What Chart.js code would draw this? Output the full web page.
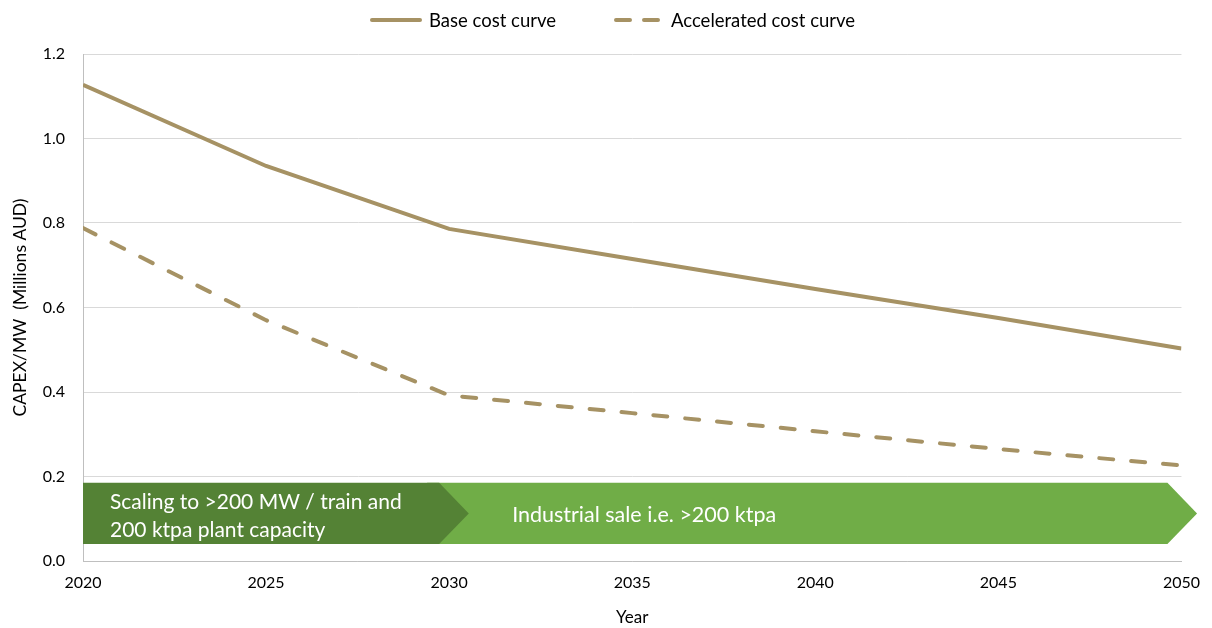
<!DOCTYPE html>
<html>
<head>
<meta charset="utf-8">
<script src="https://cdn.jsdelivr.net/npm/chart.js@4.4.1/dist/chart.umd.min.js"></script>
<style>
  html, body { margin: 0; padding: 0; background: #ffffff; }
  #wrap { width: 1212px; height: 628px; }
</style>
</head>
<body>
<div id="wrap"><canvas id="c" width="1212" height="628"></canvas></div>
<script>
// Years at which the cost estimates are given
const years = [2020, 2025, 2030, 2035, 2040, 2045, 2050];
// CAPEX per MW, millions AUD
const baseCost = [1.127, 0.935, 0.786, 0.715, 0.644, 0.575, 0.503];
const acceleratedCost = [0.788, 0.570, 0.392, 0.350, 0.307, 0.265, 0.226];
const seriesNames = ['Base cost curve', 'Accelerated cost curve'];
const yTicks = [0, 0.2, 0.4, 0.6, 0.8, 1.0, 1.2];
// Deployment phases shown as arrows along the bottom
const phaseNames = [['Scaling to >200 MW / train and', '200 ktpa plant capacity'], ['Industrial sale i.e. >200 ktpa']];
const phaseFrom = [2020, 2030];
const phaseTo = [2030, 2050];

const FONT = 'Lato, "Open Sans", sans-serif';
const LINE = '#A69264';

const pts = vals => years.map((y, i) => ({ x: y, y: vals[i] }));

// Phase arrows drawn behind the lines
const phaseArrows = {
  id: 'phaseArrows',
  beforeDatasetsDraw(chart) {
    const { ctx, scales: { x, y } } = chart;
    const top = y.getPixelForValue(0.185);
    const bot = y.getPixelForValue(0.040);
    const mid = (top + bot) / 2;
    const half = (bot - top) / 2;
    const shapes = [
      { x0: x.getPixelForValue(phaseFrom[1]) - 22, x1: x.getPixelForValue(phaseTo[1]) - 14, fill: '#70AD47' },
      { x0: x.getPixelForValue(phaseFrom[0]), x1: x.getPixelForValue(phaseTo[0]) - 10, fill: '#548235' }
    ];
    ctx.save();
    shapes.forEach(s => {
      ctx.beginPath();
      ctx.moveTo(s.x0, top);
      ctx.lineTo(s.x1, top);
      ctx.lineTo(s.x1 + half - 1, mid);
      ctx.lineTo(s.x1, bot);
      ctx.lineTo(s.x0, bot);
      ctx.closePath();
      ctx.fillStyle = s.fill;
      ctx.fill();
    });
    ctx.fillStyle = '#ffffff';
    ctx.font = '21px ' + FONT;
    ctx.textAlign = 'left';
    ctx.textBaseline = 'alphabetic';
    const xa = x.getPixelForValue(phaseFrom[0]) + 27;
    ctx.fillText(phaseNames[0][0], xa, mid - 4);
    ctx.fillText(phaseNames[0][1], xa, mid + 24);
    ctx.font = '21.5px ' + FONT;
    ctx.fillText(phaseNames[1][0], x.getPixelForValue(phaseFrom[1]) + 63, mid + 9);
    ctx.restore();
  }
};

// Legend row across the top
const topLegend = {
  id: 'topLegend',
  afterDraw(chart) {
    const { ctx } = chart;
    const ds = chart.data.datasets;
    const cy = 20;
    const items = [{ x: 370, tx: 429 }, { x: 614, tx: 671 }];
    ctx.save();
    ctx.font = '18.5px ' + FONT;
    ctx.textBaseline = 'middle';
    ctx.textAlign = 'left';
    items.forEach((it, i) => {
      ctx.strokeStyle = ds[i].borderColor;
      ctx.lineWidth = 4;
      ctx.lineCap = 'round';
      ctx.setLineDash(i === 1 ? [14, 14] : []);
      ctx.beginPath();
      ctx.moveTo(it.x + 2, cy);
      ctx.lineTo(it.x + (i === 1 ? 46 : 50), cy);
      ctx.stroke();
      ctx.setLineDash([]);
      ctx.fillStyle = '#000000';
      ctx.fillText(ds[i].label, it.tx, cy + 1);
    });
    ctx.restore();
  }
};

new Chart(document.getElementById('c'), {
  type: 'line',
  data: {
    datasets: [
      { label: seriesNames[0], data: pts(baseCost), borderColor: LINE, borderWidth: 4, pointRadius: 0, tension: 0, borderCapStyle: 'butt' },
      { label: seriesNames[1], data: pts(acceleratedCost), borderColor: LINE, borderWidth: 4, pointRadius: 0, tension: 0, borderDash: [14, 18], borderCapStyle: 'round' }
    ]
  },
  options: {
    responsive: false,
    animation: false,
    events: [],
    layout: { padding: { top: 54, right: 28, bottom: 0, left: 0 } },
    plugins: { legend: { display: false }, tooltip: { enabled: false } },
    scales: {
      x: {
        type: 'linear',
        min: 2020, max: 2050,
        afterBuildTicks(s) { s.ticks = years.map(v => ({ value: v })); },
        afterFit(s) { s.height = 67; },
        grid: { display: false, drawTicks: false },
        border: { display: true, color: '#BFBFBF', width: 1 },
        ticks: { color: '#000', font: { family: FONT, size: 16 }, padding: 12, callback: v => String(v) },
        title: { display: true, text: 'Year', color: '#000', font: { family: FONT, size: 17 }, padding: { top: 12, bottom: 0 } }
      },
      y: {
        min: 0, max: 1.2,
        afterBuildTicks(s) { s.ticks = yTicks.map(v => ({ value: v })); },
        afterFit(s) { s.width = 83; },
        grid: { color: '#D9D9D9', lineWidth: 1, drawTicks: false },
        border: { display: true, color: '#BFBFBF', width: 1 },
        ticks: { color: '#000', font: { family: FONT, size: 16 }, padding: 18, callback: v => v.toFixed(1) },
        title: { display: true, text: 'CAPEX/MW  (Millions AUD)', color: '#000', font: { family: FONT, size: 17.5 }, padding: { top: 10, bottom: 4 } }
      }
    }
  },
  plugins: [phaseArrows, topLegend]
});
</script>
</body>
</html>
